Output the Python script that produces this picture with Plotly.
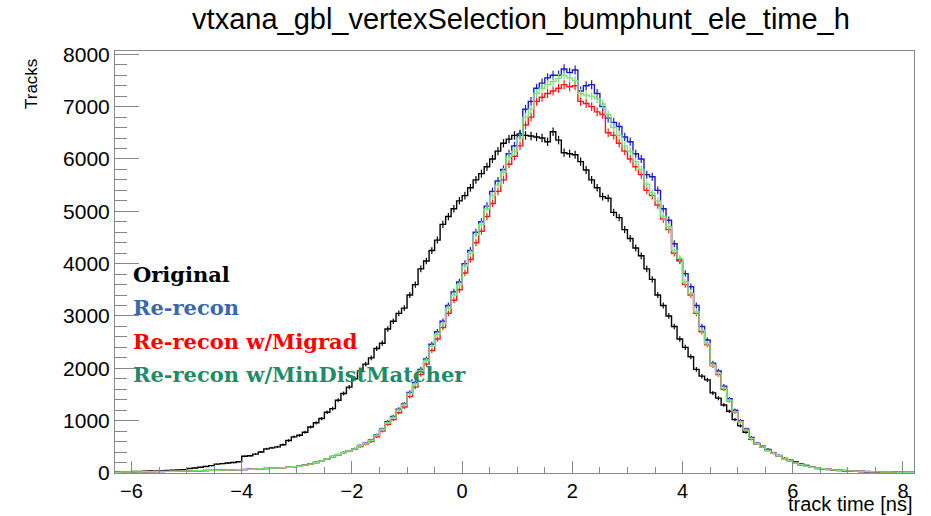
import plotly.graph_objects as go
import numpy as np

# bin lower edges: -6.3 .. 8.1 step 0.1 (145 bins), last edge 8.2
x_lo, x_hi, nbins = -6.3, 8.2, 145

original = [
    20, 25, 22, 30, 28, 35, 38, 40, 45, 48, 55, 60, 65, 85, 95, 110, 125, 140, 170, 180, 190, 200, 215, 320,
    330, 360, 400, 460, 480, 500, 540, 620, 690, 720,
    780, 880, 960, 1040, 1160, 1230, 1390, 1520, 1640, 1800,
    1950, 2080, 2200, 2380, 2480, 2750, 2900, 3050, 3150, 3400,
    3600, 3900, 4050, 4250, 4450, 4750, 4900, 5050, 5200, 5300,
    5450, 5600, 5720, 5850, 6000, 6150, 6300, 6380, 6450, 6480,
    6450, 6440, 6420, 6400, 6330, 6520, 6360, 6120, 6100, 6080,
    5950, 5790, 5600, 5450, 5280, 5250, 4980, 4880, 4650, 4480,
    4300, 4150, 3900, 3700, 3400, 3200, 3000, 2800, 2560, 2400,
    2220, 1980, 1850, 1780, 1530, 1430, 1300, 1180, 1020, 900,
    780, 650, 560, 500, 450, 380, 330, 280, 240, 210,
    170, 145, 110, 85, 75, 65, 55, 48, 42, 38,
    32, 28, 25, 22, 20, 18, 16, 14, 12, 11, 10,
]

rerecon = [
    16, 18, 21, 21, 22, 23, 26, 27, 29, 31, 33, 35, 37, 40, 43, 44, 47, 50, 53, 56, 57, 61, 63, 66,
    71, 74, 82, 86, 91, 96, 102, 112, 121, 133,
    152, 172, 204, 232, 272, 315, 352, 395, 425, 465,
    525, 570, 630, 730, 840, 980, 1080, 1220, 1320, 1540,
    1730, 1980, 2180, 2460, 2700, 2900, 3200, 3460, 3650, 4000,
    4250, 4600, 4800, 5100, 5380, 5580, 5800, 6100, 6250, 6450,
    6950, 7100, 7350, 7450, 7550, 7600, 7600, 7720, 7650, 7700,
    7300, 7400, 7420, 7250, 7000, 6780, 6700, 6620, 6420, 6330,
    6100, 6000, 5700, 5660, 5400, 5050, 4830, 4380, 4070, 3810,
    3560, 3200, 2800, 2540, 2100, 1950, 1660, 1420, 1200, 1000,
    840, 680, 570, 510, 440, 385, 335, 275, 245, 195,
    162, 132, 112, 92, 81, 71, 61, 53, 47, 41,
    36, 31, 28, 25, 23, 20, 18, 16, 14, 12, 11,
]

migrad = [
    15, 17, 20, 22, 20, 24, 25, 28, 31, 32, 35, 36, 39, 41, 42, 46, 49, 50, 53, 56, 58, 60, 63, 64,
    69, 75, 79, 85, 89, 95, 101, 109, 118, 128,
    148, 168, 196, 226, 265, 305, 345, 385, 415, 455,
    505, 550, 600, 690, 800, 930, 1020, 1150, 1260, 1460,
    1640, 1880, 2080, 2340, 2560, 2780, 3050, 3300, 3500, 3820,
    4080, 4400, 4620, 4900, 5150, 5380, 5600, 5900, 6050, 6250,
    6650, 6800, 7100, 7180, 7250, 7300, 7350, 7420, 7380, 7400,
    7100, 7060, 7000, 6900, 6850, 6500, 6450, 6300, 6150, 6000,
    5850, 5700, 5400, 5300, 5120, 4850, 4650, 4200, 4050, 3600,
    3400, 3050, 2700, 2450, 2050, 1880, 1600, 1380, 1160, 980,
    820, 660, 560, 500, 430, 378, 328, 272, 238, 190,
    158, 130, 108, 90, 80, 70, 60, 52, 46, 40,
    35, 30, 27, 24, 22, 20, 18, 16, 14, 12, 11,
]

mindist = [
    15, 18, 20, 22, 20, 24, 25, 28, 30, 32, 34, 36, 38, 40, 42, 45, 48, 50, 52, 55, 58, 60, 62, 65,
    70, 75, 80, 85, 90, 95, 100, 110, 120, 130,
    150, 170, 200, 230, 270, 310, 350, 390, 420, 460,
    520, 560, 620, 720, 830, 960, 1060, 1200, 1300, 1520,
    1700, 1950, 2150, 2420, 2650, 2850, 3150, 3400, 3600, 3950,
    4200, 4550, 4750, 5050, 5300, 5500, 5750, 6050, 6150, 6400,
    6800, 6950, 7250, 7350, 7420, 7480, 7540, 7600, 7550, 7500,
    7250, 7220, 7200, 7150, 7050, 6850, 6600, 6450, 6250, 6150,
    5950, 5800, 5520, 5350, 5200, 4900, 4700, 4250, 4100, 3650,
    3430, 3080, 2730, 2470, 2060, 1900, 1620, 1390, 1170, 980,
    820, 660, 560, 500, 430, 380, 330, 270, 240, 190,
    160, 130, 110, 90, 80, 70, 60, 52, 46, 40,
    35, 30, 27, 24, 22, 20, 18, 16, 14, 12, 11,
]

x_ticks = [-6, -4, -2, 0, 2, 4, 6, 8]
y_ticks = [0, 1000, 2000, 3000, 4000, 5000, 6000, 7000, 8000]

series = [
    ("Original", original, "#000000", "#000000"),
    ("Re-recon", rerecon, "#1a1ad0", "#3a68aa"),
    ("Re-recon w/Migrad", migrad, "#ff1a1a", "#ff0000"),
    ("Re-recon w/MinDistMatcher", mindist, "#7fe07f", "#1f8c68"),
]

edges = np.linspace(x_lo, x_hi, nbins + 1)
centers = 0.5 * (edges[:-1] + edges[1:])

fig = go.Figure()
for name, vals, lc, tc in series:
    v = np.array(vals, dtype=float)
    assert len(v) == nbins, (name, len(v))
    fig.add_trace(go.Scatter(
        x=edges, y=np.append(v, v[-1]), mode="lines", line=dict(color=lc, width=1.4, shape="hv"),
        name=name, showlegend=False, hoverinfo="skip"))
    fig.add_trace(go.Scatter(
        x=centers, y=v, mode="markers", marker=dict(size=0.1, color=lc),
        error_y=dict(type="data", array=np.sqrt(v), color=lc, thickness=1.2, width=0),
        showlegend=False, hoverinfo="skip"))

W, H = 931, 516
L, R, T, B = 115, 17, 51, 43
pw, ph = W - L - R, H - T - B

def px_x(px):
    return (px - L) / pw

def px_y(py):
    return (H - B - py) / ph

axis_font = dict(family="Liberation Sans, Arial, sans-serif", size=20, color="#000000")
y_font = dict(family="Liberation Sans, Arial, sans-serif", size=21, color="#000000")

fig.update_layout(
    width=W, height=H,
    margin=dict(l=L, r=R, t=T, b=B, pad=0),
    paper_bgcolor="white", plot_bgcolor="white",
    title=dict(text="vtxana_gbl_vertexSelection_bumphunt_ele_time_h",
               font=dict(family="Liberation Sans, Arial, sans-serif", size=29, color="#000000"),
               x=521 / W, xref="container", xanchor="center",
               y=1 - 19 / H, yanchor="middle", yref="container"),
    xaxis=dict(range=[x_lo, x_hi], tickvals=x_ticks, ticks="inside", ticklen=12, tickcolor="#888888",
               tickwidth=1, showline=True, linecolor="#888888", linewidth=1, mirror=True,
               showgrid=False, zeroline=False, tickfont=axis_font,
               minor=dict(dtick=0.5, tick0=0, ticks="inside", ticklen=6, tickcolor="#888888", showgrid=False)),
    yaxis=dict(range=[0, 8063], tickvals=y_ticks, ticks="inside", ticklen=24, tickcolor="#888888",
               tickwidth=1, showline=True, linecolor="#888888", linewidth=1, mirror=True,
               showgrid=False, zeroline=False, tickfont=y_font,
               minor=dict(dtick=200, tick0=0, ticks="inside", ticklen=12, tickcolor="#888888", showgrid=False)),
)

ann = []
ann.append(dict(text="Tracks", x=px_x(31), y=px_y(57), xref="paper", yref="paper",
                xanchor="center", yanchor="top", textangle=-90, showarrow=False,
                font=dict(family="Liberation Sans, sans-serif", size=17, color="#000000")))
ann.append(dict(text="track time [ns]", x=px_x(914), y=px_y(504), xref="paper", yref="paper",
                xanchor="right", yanchor="middle", showarrow=False,
                font=dict(family="Liberation Sans, Arial, sans-serif", size=20, color="#000000")))
leg_y = [274, 307, 341, 374]
for (name, vals, lc, tc), yy in zip(series, leg_y):
    ann.append(dict(text="<b>" + name + "</b>", x=px_x(131), y=px_y(yy), xref="paper", yref="paper",
                    xanchor="left", yanchor="middle", showarrow=False,
                    font=dict(family="DejaVu Serif, serif", size=21, color=tc)))
fig.update_layout(annotations=ann)

fig.write_html("out.html")
